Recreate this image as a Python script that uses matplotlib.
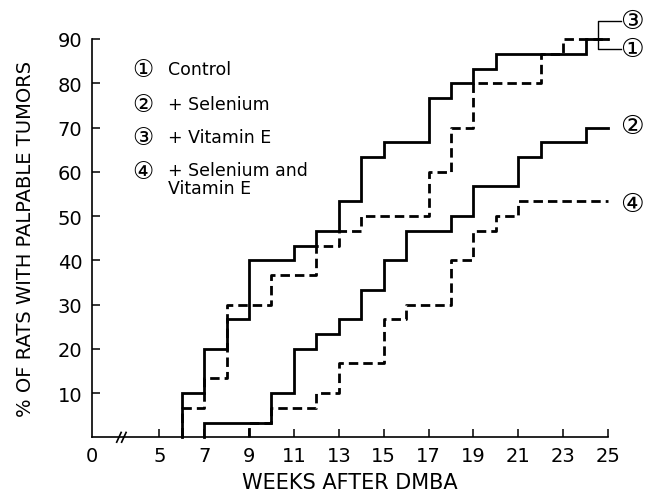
import numpy as np
import matplotlib
matplotlib.use("Agg")
import matplotlib.pyplot as plt

plt.rcParams["font.family"] = ["DejaVu Sans", "Noto Sans CJK SC"]

# tumour incidence (%) reached at each week (step changes), per group
control_weeks = [6, 7, 8, 9, 11, 12, 13, 14, 15, 17, 18, 19, 20, 24]
control_pct = [10, 20, 26.7, 40, 43.3, 46.7, 53.3, 63.3, 66.7, 76.7, 80, 83.3, 86.7, 90]

selenium_weeks = [7, 10, 11, 12, 13, 14, 15, 16, 18, 19, 21, 22, 24]
selenium_pct = [3.3, 10, 20, 23.3, 26.7, 33.3, 40, 46.7, 50, 56.7, 63.3, 66.7, 70]

vite_weeks = [6, 7, 8, 10, 12, 13, 14, 17, 18, 19, 22, 23]
vite_pct = [6.7, 13.3, 30, 36.7, 43.3, 46.7, 50, 60, 70, 80, 86.7, 90]

se_vite_weeks = [9, 10, 12, 13, 15, 16, 18, 19, 20, 21]
se_vite_pct = [3.3, 6.7, 10, 16.7, 26.7, 30, 40, 46.7, 50, 53.3]

end_week = 25
xtick_weeks = [5, 7, 9, 11, 13, 15, 17, 19, 21, 23, 25]
ytick_vals = [10, 20, 30, 40, 50, 60, 70, 80, 90]
zero_pos = 2.0  # axis is broken: week 0 is drawn at this position

legend_labels = ["Control", "+ Selenium", "+ Vitamin E", "+ Selenium and\nVitamin E"]
circled = ["\u2460", "\u2461", "\u2462", "\u2463"]


def step_path(weeks, pcts):
    xs, ys = [weeks[0]], [0]
    for w, p in zip(weeks, pcts):
        xs += [w, w]
        ys += [ys[-1], p]
    xs.append(end_week)
    ys.append(pcts[-1])
    return xs, ys


fig = plt.figure(figsize=(6.46, 5.02), dpi=100)
ax = fig.add_axes([92 / 646, 1 - 438.3 / 502, 516 / 646, 398.3 / 502])

solid = dict(color="black", lw=2.0, solid_joinstyle="miter", clip_on=False)
dashed = dict(color="black", lw=2.0, linestyle=(0, (3.4, 1.8)), clip_on=False)

ax.plot(*step_path(control_weeks, control_pct), **solid)
ax.plot(*step_path(selenium_weeks, selenium_pct), **solid)
ax.plot(*step_path(vite_weeks, vite_pct), **dashed)
ax.plot(*step_path(se_vite_weeks, se_vite_pct), **dashed)

ax.set_xlim(zero_pos, end_week)
ax.set_ylim(0, 90)
ax.spines["top"].set_visible(False)
ax.spines["right"].set_visible(False)
for s in ["left", "bottom"]:
    ax.spines[s].set_linewidth(1.2)

ax.set_xticks([zero_pos] + xtick_weeks)
ax.set_xticklabels(["0"] + [str(w) for w in xtick_weeks])
ax.set_yticks(ytick_vals)
ax.set_yticklabels([str(v) for v in ytick_vals])
ax.tick_params(axis="both", direction="in", length=6, width=1.1, labelsize=14)
ax.tick_params(axis="x", pad=6)
ax.tick_params(axis="y", pad=7)
ax.xaxis.get_major_ticks()[0].tick1line.set_visible(False)

# axis break marks
for dx in (0, 0.22):
    ax.plot([3.1 + dx, 3.3 + dx], [-1.1, 1.1], color="black", lw=1.2, clip_on=False)

ax.set_xlabel("WEEKS AFTER DMBA", fontsize=15, labelpad=5)
ax.set_ylabel("% OF RATS WITH PALPABLE TUMORS", fontsize=14, labelpad=16)

# legend block
leg_y = [83.2, 75.3, 67.9, 60.2]
for c, lab, y in zip(circled, legend_labels, leg_y):
    ax.text(4.25, y, c, fontsize=17, ha="center", va="center")
    if "\n" in lab:
        ax.text(5.4, y + 2.2, lab, fontsize=12.5, ha="left", va="top", linespacing=1.0)
    else:
        ax.text(5.4, y, lab, fontsize=12.5, ha="left", va="center")

# end labels with leader lines for curves 1 and 3
lbl_x = 26.05
end_lbl_y = [87.7, 70.3, 94.1, 52.7]
for c, y in zip(circled, end_lbl_y):
    ax.text(lbl_x, y, c, fontsize=19, ha="center", va="center", clip_on=False)
ax.plot([25.6, 24.55, 24.55, 25.6], [94.1, 94.1, 87.7, 87.7], color="black", lw=1.0,
        clip_on=False)

fig.savefig("out.png", dpi=100)
